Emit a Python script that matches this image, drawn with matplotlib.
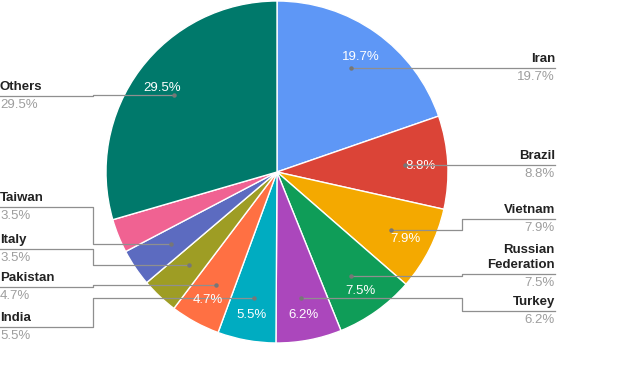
import numpy as np
import matplotlib
matplotlib.use("Agg")
import matplotlib.pyplot as plt

plt.rcParams['font.family'] = ['Liberation Sans', 'DejaVu Sans']

# share of total, clockwise from 12 o'clock
countries = ["Iran", "Brazil", "Vietnam", "Russian Federation", "Turkey",
             "India", "Pakistan", "Italy", "Taiwan", "", "Others"]
shares = [19.7, 8.8, 7.9, 7.5, 6.2, 5.5, 4.7, 3.5, 3.5, 3.2, 29.5]
colors = ["#5e97f6", "#db4437", "#f4a900", "#0f9d58", "#ab47bc", "#00acc1",
          "#ff7043", "#9e9d24", "#5c6bc0", "#f06292", "#00796b"]

# label layout (pixel rows from top of the image) for the leader lines
right_rows = {"Iran": 68, "Brazil": 165, "Vietnam": 219,
              "Russian Federation": 274, "Turkey": 311}
left_rows = {"Others": 96, "Taiwan": 207, "Italy": 249,
             "Pakistan": 287, "India": 327}

W, H = 630, 371
cx, cy, R = 277, H - 172, 171

fig = plt.figure(figsize=(6.3, 3.71), dpi=100)
ax = fig.add_axes([0, 0, 1, 1])
ax.axis("off")

ax.pie(shares, colors=colors, startangle=90, counterclock=False,
       center=(cx, cy), radius=R,
       wedgeprops=dict(edgecolor="white", linewidth=1))
ax.set_xlim(0, W)
ax.set_ylim(0, H)
ax.set_aspect("auto")

total = sum(shares)
cum = np.cumsum([0] + shares[:-1])
grey = "#8f8f8f"
fs = 9.5
for name, s, c0 in zip(countries, shares, cum):
    mid = np.deg2rad((c0 + s / 2) / total * 360)
    if s >= 4:
        ax.text(cx + 0.84 * R * np.sin(mid), cy + 0.84 * R * np.cos(mid) - 2,
                f"{s}%", color="white", fontsize=9.5, ha="center", va="center")
    if not name:
        continue
    px, py = cx + 0.75 * R * np.sin(mid), cy + 0.75 * R * np.cos(mid)
    shown = name.replace("Russian ", "Russian\n")
    if name in right_rows:
        yl = H - right_rows[name]
        ax.plot([555, 462, 462, px], [yl, yl, py, py], color=grey, lw=0.9, zorder=3)
        ax.text(555, yl + 3, shown, ha="right", va="bottom", fontsize=fs,
                fontweight="bold", color="#222222", linespacing=1.3)
        ax.text(555, yl - 3, f"{s}%", ha="right", va="top", fontsize=fs,
                color="#9e9e9e")
    else:
        yl = H - left_rows[name]
        ax.plot([0, 93, 93, px], [yl, yl, py, py], color=grey, lw=0.9, zorder=3)
        ax.text(0, yl + 3, shown, ha="left", va="bottom", fontsize=fs,
                fontweight="bold", color="#222222")
        ax.text(0, yl - 3, f"{s}%", ha="left", va="top", fontsize=fs,
                color="#9e9e9e")
    ax.plot(px, py, "o", color="#777777", ms=2.2, zorder=4)

fig.savefig("out.png", dpi=100)
